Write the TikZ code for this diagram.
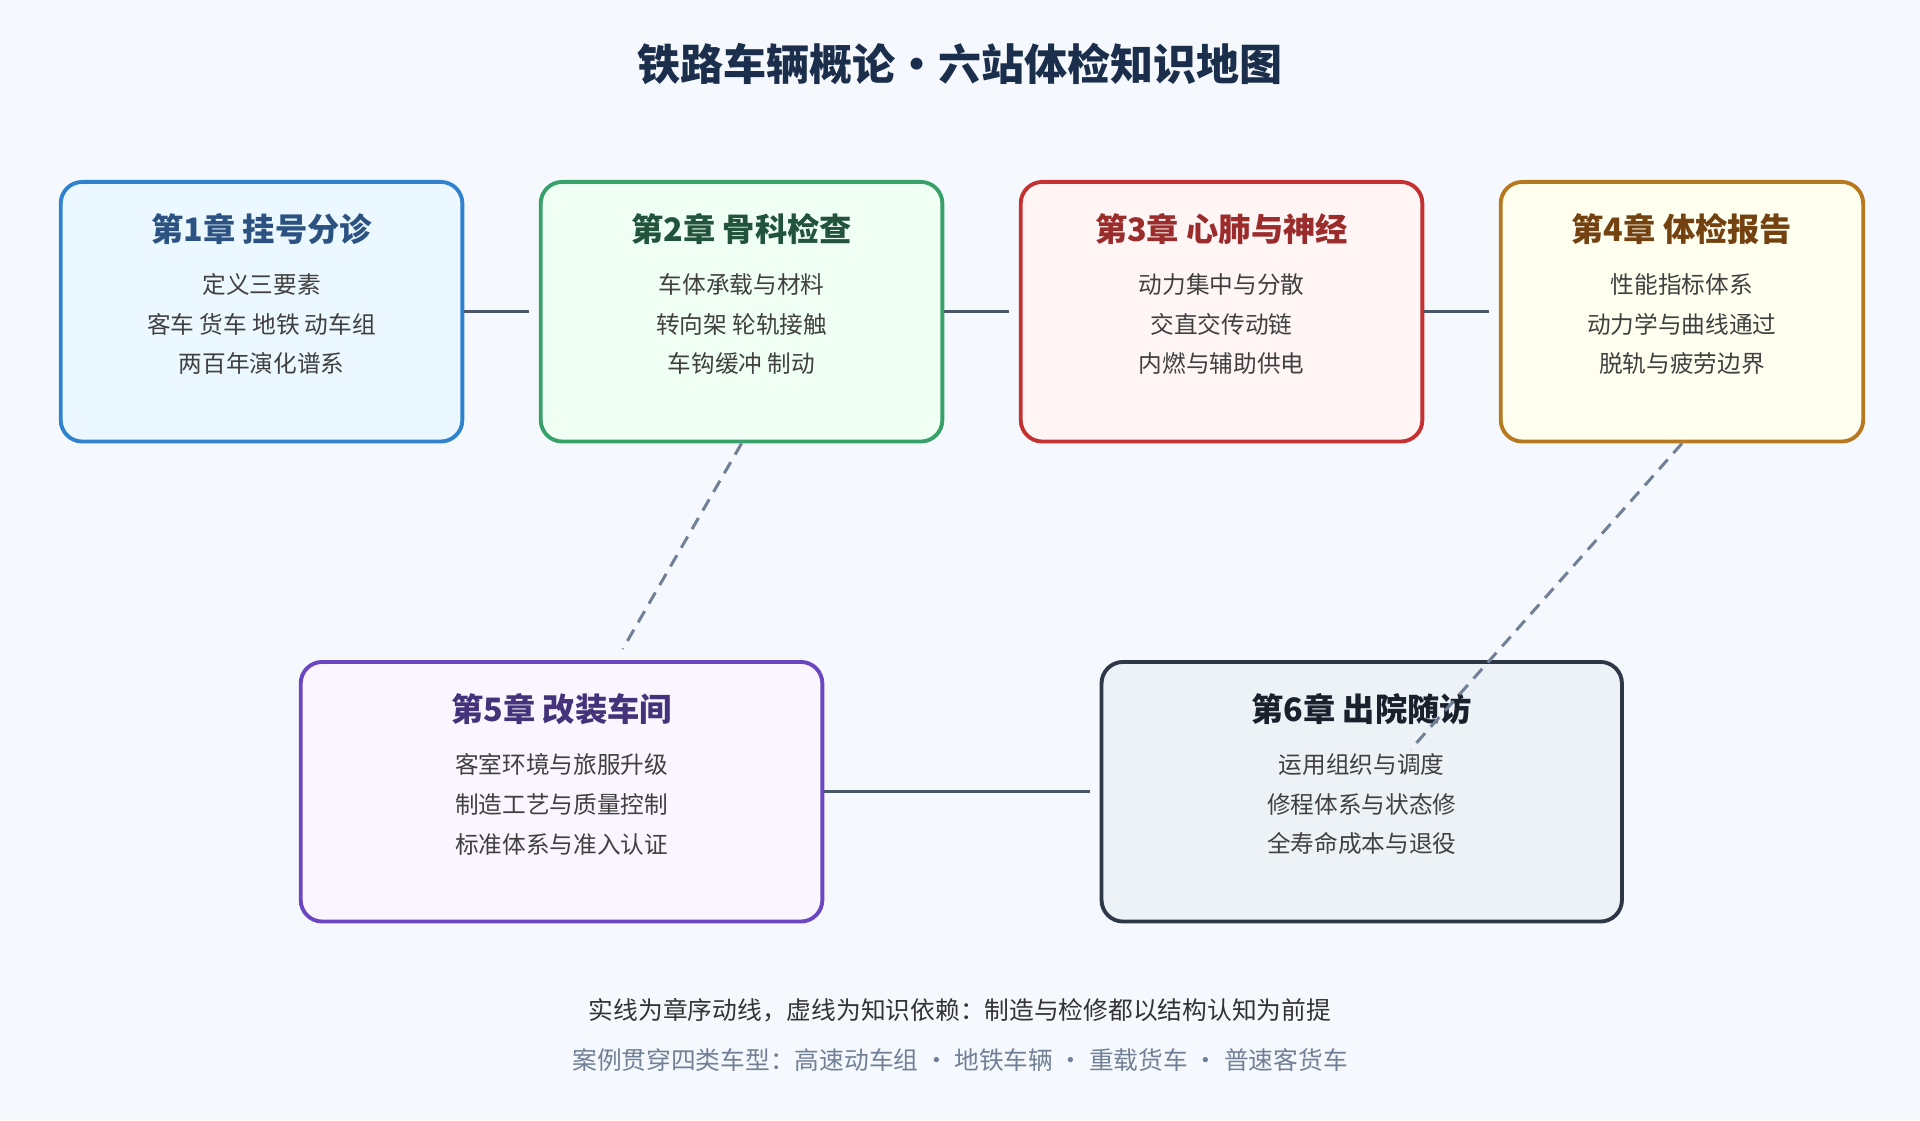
\documentclass[tikz,border=0pt]{standalone}
\usepackage{fontspec}
\setmainfont{Noto Sans CJK SC}
\usetikzlibrary{calc}
\definecolor{bgc}{HTML}{F5F9FD}
\definecolor{ttl}{HTML}{1B2E4B}
\definecolor{lnk}{HTML}{4A5568}
\definecolor{dsh}{HTML}{718096}
\definecolor{fa}{HTML}{EBF8FF}\definecolor{ba}{HTML}{3182CE}\definecolor{ta}{HTML}{2C5282}
\definecolor{fb}{HTML}{F0FFF4}\definecolor{bb}{HTML}{38A169}\definecolor{tb}{HTML}{22543D}
\definecolor{fc}{HTML}{FFF5F5}\definecolor{bc}{HTML}{C53030}\definecolor{tc}{HTML}{9B2C2C}
\definecolor{fd}{HTML}{FFFFF0}\definecolor{bd}{HTML}{B7791F}\definecolor{td}{HTML}{744210}
\definecolor{fe}{HTML}{FAF5FF}\definecolor{be}{HTML}{6B46C1}\definecolor{te}{HTML}{44337A}
\definecolor{ff}{HTML}{EDF2F7}\definecolor{bf}{HTML}{2D3748}\definecolor{tf}{HTML}{1A202C}
\tikzset{
  chap/.style={ % chapter box
    draw, line width=1.8pt, rounded corners=10pt, minimum height=212*0.02cm,
    align=center, anchor=north west, inner sep=0pt
  },
  seq/.style={lnk, line width=1.4pt},
  dep/.style={dsh, line width=1.4pt, dash pattern=on 6pt off 4pt}
}
\newcommand{\chapbox}[6]{% name, x, y, width, fill, border
  \node[chap, fill=#5, draw=#6, minimum width=#4*0.02cm] (#1) at (#2,#3) {};
}
\newcommand{\chaptext}[5]{% name, title colour, title, lines
  \node[text=#2, font=\bfseries\fontsize{15}{18}\selectfont, anchor=center] at ($(#1.north)+(0,40)$) {#3};
  \node[text=black!75, font=\fontsize{11}{18.5}\selectfont, align=center, anchor=north] at ($(#1.north)+(0,70)$) {#4\\#5};
}
\begin{document}
\begin{tikzpicture}[x=0.02cm, y=-0.02cm]
  \fill[bgc] (0,0) rectangle (1568,915);
  \useasboundingbox (0,0) rectangle (1568,915);
  \node[text=ttl, font=\bfseries\fontsize{20}{24}\selectfont] (title) at (784,52) {铁路车辆概论·六站体检知识地图};

  \chapbox{c1}{48}{147}{328}{fa}{ba}
  \chapbox{c2}{440}{147}{328}{fb}{bb}
  \chapbox{c3}{832}{147}{328}{fc}{bc}
  \chapbox{c4}{1224}{147}{296}{fd}{bd}
  \chapbox{c5}{244}{539}{426}{fe}{be}
  \chapbox{c6}{898}{539}{425}{ff}{bf}

  % chapter order
  \draw[seq] (c1.east) -- ($(c2.west)+(-8,0)$);
  \draw[seq] (c2.east) -- ($(c3.west)+(-8,0)$);
  \draw[seq] (c3.east) -- ($(c4.west)+(-8,0)$);
  \draw[seq] (c5.east) -- ($(c6.west)+(-8,0)$);
  % knowledge dependencies
  \draw[dep] (c2.south) -- ($(c5.north)+(50,-9)$);

  \chaptext{c1}{ta}{第1章 挂号分诊}{定义三要素\\客车 货车 地铁 动车组}{两百年演化谱系}
  \chaptext{c2}{tb}{第2章 骨科检查}{车体承载与材料\\转向架 轮轨接触}{车钩缓冲 制动}
  \chaptext{c3}{tc}{第3章 心肺与神经}{动力集中与分散\\交直交传动链}{内燃与辅助供电}
  \chaptext{c4}{td}{第4章 体检报告}{性能指标体系\\动力学与曲线通过}{脱轨与疲劳边界}
  \chaptext{c5}{te}{第5章 改装车间}{客室环境与旅服升级\\制造工艺与质量控制}{标准体系与准入认证}
  \chaptext{c6}{tf}{第6章 出院随访}{运用组织与调度\\修程体系与状态修}{全寿命成本与退役}

  \draw[dep] (c4.south) -- ($(c6.north)+(40,73)$);

  \node[text=black!80, font=\fontsize{11.5}{13}\selectfont] (note) at (784,825) {实线为章序动线，虚线为知识依赖：制造与检修都以结构认知为前提};
  \node[text=dsh, font=\fontsize{11.5}{13}\selectfont] (cases) at (784,866) {案例贯穿四类车型：高速动车组 · 地铁车辆 · 重载货车 · 普速客货车};
\end{tikzpicture}
\end{document}
